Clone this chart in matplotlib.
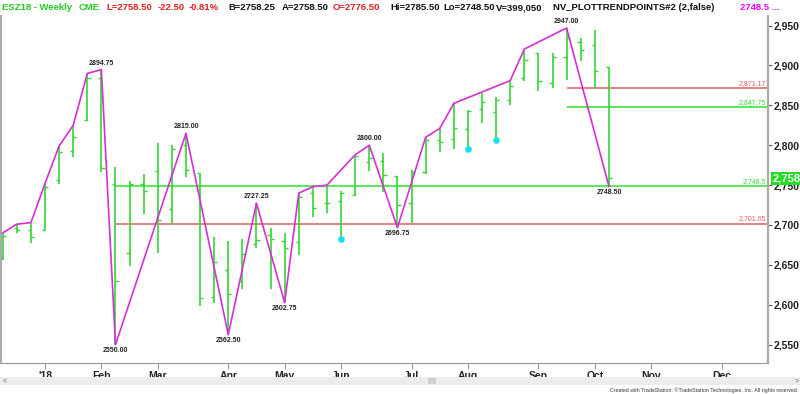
import numpy as np
import pandas as pd
import matplotlib
matplotlib.use("Agg")
import matplotlib.pyplot as plt
from matplotlib.patches import Rectangle

plt.rcParams["font.family"] = ["Liberation Sans", "DejaVu Sans"]

# weekly bars (dated Friday)
weeks = pd.date_range("2017-12-15", periods=44, freq="W-FRI")
opens = [2660, 2696, 2694, 2694, 2756, 2793, 2832, 2884, 2752, 2665, 2752,
         2768, 2720, 2800, 2765, 2610, 2643, 2630, 2676, 2688, 2680, 2679,
         2740, 2728, 2730, 2737, 2779, 2780, 2761, 2727, 2766, 2806, 2808,
         2820, 2846, 2842, 2857, 2884, 2915, 2878, 2910, 2929, 2926, 2898]
highs = [2690, 2701, 2703, 2752, 2799, 2825, 2890, 2894.75, 2773, 2755.5,
         2764.5, 2803, 2800, 2815, 2765.5, 2684.5, 2680.5, 2682, 2727.25,
         2696, 2689.5, 2740, 2748, 2750, 2742, 2788, 2800, 2790, 2761.5,
         2769, 2810, 2821, 2852.5, 2844, 2866, 2860, 2881, 2920.5, 2915,
         2916, 2947, 2935, 2944, 2898.5]
lows = [2656, 2689.5, 2678, 2693.5, 2751.5, 2785, 2830.5, 2766, 2550,
        2648.5, 2714, 2665.5, 2700, 2760, 2598.5, 2602.7, 2562.5, 2619.5,
        2671, 2619.5, 2602.75, 2662.5, 2709.5, 2714.5, 2683, 2736.5, 2768,
        2741.5, 2696.75, 2702.5, 2764.5, 2792, 2795, 2795, 2828, 2806.5,
        2850.5, 2881, 2868, 2871.5, 2881.5, 2906, 2871.17, 2748.5]
closes = [2686, 2693.5, 2685, 2748, 2792, 2810, 2884, 2771.5, 2630, 2752,
          2742, 2706, 2795, 2769, 2608, 2653, 2613.5, 2664, 2681, 2682, 2671,
          2735, 2721, 2727, 2740, 2786, 2784, 2762.5, 2725, 2767, 2807, 2804,
          2821, 2843, 2854.5, 2856.5, 2874, 2907, 2880, 2911, 2935, 2920,
          2893, 2758.5]

# trend points (bar index, 'H' or 'L') and which ones carry a price label
pivot_bars = [0, 1, 2, 3, 4, 5, 6, 7, 8, 13, 16, 18, 20, 21, 22, 23, 25, 26,
              28, 30, 31, 32, 36, 37, 40, 43]
pivot_side = ["H", "H", "H", "H", "H", "H", "H", "H", "L", "H", "L", "H", "L",
              "H", "H", "H", "H", "H", "L", "H", "H", "H", "H", "H", "H", "L"]
labeled_bars = [7, 8, 13, 16, 18, 20, 26, 28, 40, 43]

# cyan markers
dot_bars = [24, 33, 35]
dot_prices = [2683, 2795, 2806.5]

# horizontal levels
level_prices = [2748.5, 2701.65, 2871.17, 2847.75]
level_start = [8, 8, 40, 40]
level_kind = ["green", "red", "red", "green"]
level_text = ["2,748.5", "2,701.65", "2,871.17", "2,847.75"]

last_price = 2758.5
yticks = list(range(2550, 3000, 50))
month_labels = ["'18", "Feb", "Mar", "Apr", "May", "Jun", "Jul", "Aug",
                "Sep", "Oct", "Nov", "Dec"]

GREEN = "#33d633"
MAGENTA = "#d62fd6"
RED = "#e06060"
LVL_GREEN = "#2ee02e"

fig = plt.figure(figsize=(8, 3.94), dpi=100)
ax = fig.add_axes([1 / 800, 31 / 394, 767 / 800, 347 / 394])

x = weeks.to_pydatetime()
tick = pd.Timedelta(days=1.6)
ax.vlines(x, lows, highs, color=GREEN, lw=1.2)
ax.hlines(opens, weeks - tick, weeks, color=GREEN, lw=1.0)
ax.hlines(closes, weeks, weeks + tick, color=GREEN, lw=1.0)

xmin = weeks[0] - pd.Timedelta(days=0.85)
xmax = weeks[0] + pd.Timedelta(days=380)

for p, sb, kind, t in zip(level_prices, level_start, level_kind, level_text):
    c = LVL_GREEN if kind == "green" else RED
    ax.hlines(p, weeks[sb], xmax, color=c, lw=1.1, zorder=1)
    ax.text(0.997, p + 1.5, t, transform=ax.get_yaxis_transform(),
            ha="right", va="bottom", fontsize=5, color=c)

pv_x = [weeks[i] for i in pivot_bars]
pv_y = [highs[i] if s == "H" else lows[i] for i, s in zip(pivot_bars, pivot_side)]
ax.plot(pv_x, pv_y, color=MAGENTA, lw=1.2, zorder=3)
for i, s in zip(pivot_bars, pivot_side):
    if i not in labeled_bars:
        continue
    v = highs[i] if s == "H" else lows[i]
    off = 2 if s == "H" else -2
    ax.annotate(f"{v:.2f}", (weeks[i], v), xytext=(0, off),
                textcoords="offset points", ha="center",
                va="bottom" if s == "H" else "top",
                fontsize=5, fontweight="bold", color="#222222")

ax.scatter([weeks[i] for i in dot_bars], dot_prices, s=14, color="#19e0ee",
           zorder=4)

ax.set_xlim(xmin, xmax)
ax.set_ylim(2527, 2962)

# month ticks at first weekly bar of each month
fri = pd.Series(pd.date_range("2018-01-01", "2018-12-31", freq="W-FRI"))
first_fri = fri.groupby(fri.dt.month).first().tolist()
ax.set_xticks(first_fri)
ax.set_xticklabels(month_labels, fontsize=7.5, fontweight="bold",
                   color="#222222")
ax.tick_params(axis="x", direction="out", length=4, color="#999999", pad=2)

ax.yaxis.tick_right()
ax.set_yticks(yticks)
ax.set_yticklabels([f"{v:,}" for v in yticks], fontsize=7.5,
                   fontweight="bold", color="#222222")
ax.tick_params(axis="y", direction="out", length=3, color="#555555", pad=1)

ax.spines["top"].set_visible(False)
ax.spines["right"].set_color("#aaaaaa")
ax.spines["right"].set_linewidth(1.6)
ax.spines["left"].set_color("#aaaaaa")
ax.spines["left"].set_linewidth(1.6)
ax.spines["bottom"].set_color("#999999")

# last price box on the price axis
ax.annotate(f"{last_price:,.0f}", (1.0, last_price),
            xycoords=ax.get_yaxis_transform(), xytext=(3, 0),
            textcoords="offset points", ha="left", va="center",
            fontsize=8, fontweight="bold", color="white",
            bbox=dict(boxstyle="square,pad=0.15", fc="#22dd22", ec="none"),
            zorder=6)

# header line
hdr = [(2, "ESZ18 - Weekly", "#22cc22"), (79, "CME", "#22cc22"),
       (106, "L=2758.50", "#e02020"), (158, "-22.50", "#e02020"),
       (189, "-0.81%", "#e02020"), (228, "B=2758.25", "#111111"),
       (282, "A=2758.50", "#111111"), (333, "O=2776.50", "#e02020"),
       (390, "Hi=2785.50", "#111111"), (443, "Lo=2748.50", "#111111"),
       (496, "V=399,050", "#111111"),
       (553, "NV_PLOTTRENDPOINTS#2 (2,false)", "#111111"),
       (740, "2748.5 ...", "#ff00ff")]
for px, t, c in hdr:
    fig.text(px / 800, 1 - 8 / 394, t, ha="left", va="center", fontsize=6.8,
             fontweight="bold", color=c)

# scrollbar strip and footer
fig.patches.append(Rectangle((0, (394 - 385) / 394), 1, 8 / 394,
                             transform=fig.transFigure, fc="#ececec",
                             ec="none"))
fig.patches.append(Rectangle((428 / 800, (394 - 384) / 394), 8 / 800,
                             6 / 394, transform=fig.transFigure,
                             fc="#cfcfcf", ec="none"))
fig.text(3 / 800, 1 - 381 / 394, "<", fontsize=5, va="center", color="#666")
fig.text(795 / 800, 1 - 381 / 394, ">", fontsize=5, va="center", color="#666")
fig.text(798 / 800, 1 - 390 / 394,
         "Created with TradeStation. \u00a9TradeStation Technologies, Inc. "
         "All rights reserved.", ha="right", va="center", fontsize=3.8,
         color="#333333")

fig.savefig("out.png", dpi=100)
